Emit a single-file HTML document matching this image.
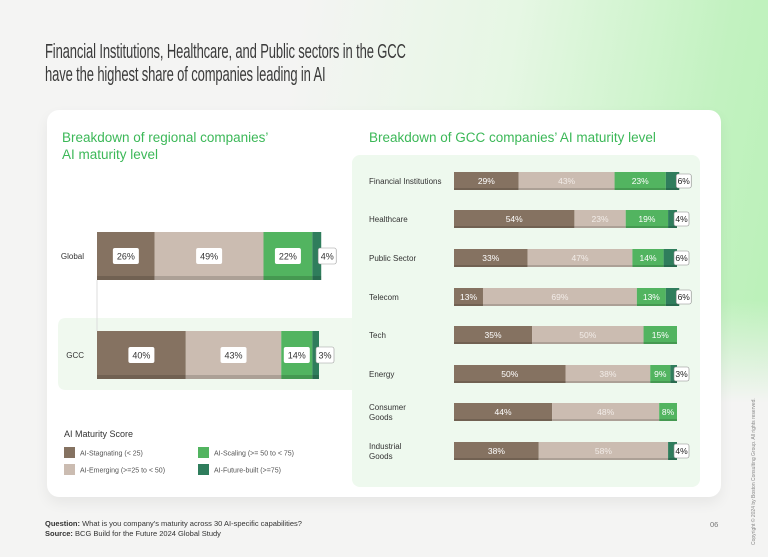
<!DOCTYPE html>
<html><head><meta charset="utf-8">
<style>
html,body{margin:0;padding:0}
body{width:768px;height:557px;overflow:hidden;position:relative;font-family:"Liberation Sans",sans-serif;
background:linear-gradient(100deg,#f4f4f3 0%,#f4f4f3 35%,#e6f7e4 60%,#c2f2c0 85%,#b8f0b6 100%);}
.bot{position:absolute;left:0;top:300px;width:768px;height:257px;background:linear-gradient(180deg,rgba(244,244,243,0),#f4f4f3 40%)}
h1{position:absolute;left:45px;top:41px;margin:0;font-weight:normal;font-size:20px;line-height:23px;color:#3a3a3a;letter-spacing:-0.2px;transform:scaleX(0.65);transform-origin:0 0;white-space:nowrap}
.card{position:absolute;left:47px;top:110px;width:674px;height:387px;background:#fff;border-radius:12px;box-shadow:0 6px 14px rgba(0,0,0,0.06)}
svg{position:absolute;left:0;top:0}
.foot{position:absolute;left:45px;top:519px;font-size:7.5px;line-height:10px;color:#333}
.pg{position:absolute;left:710px;top:520px;font-size:7.5px;color:#777}
.copy{position:absolute;left:751px;top:545px;transform:rotate(-90deg);transform-origin:0 0;font-size:5px;color:#888;white-space:nowrap}
</style></head><body>
<div class="bot"></div>
<h1>Financial Institutions, Healthcare, and Public sectors in the GCC<br>have the highest share of companies leading in AI</h1>
<div class="card"></div>
<svg id="chart" width="768" height="557" font-family="Liberation Sans, sans-serif"></svg>
<div class="foot"><b>Question:</b> What is you company's maturity across 30 AI-specific capabilities?<br><b>Source:</b> BCG Build for the Future 2024 Global Study</div>
<div class="pg">06</div>
<div class="copy">Copyright © 2024 by Boston Consulting Group. All rights reserved.</div>
<script>
const regions = ['Global','GCC'];
const regStagnating = [26,40];
const regEmerging = [49,43];
const regScaling = [22,14];
const regFuture = [4,3];
const sectors = ['Financial Institutions','Healthcare','Public Sector','Telecom','Tech','Energy','Consumer|Goods','Industrial|Goods'];
const secStagnating = [29,54,33,13,35,50,44,38];
const secEmerging = [43,23,47,69,50,38,48,58];
const secScaling = [23,19,14,13,15,9,8,0];
const secFuture = [6,4,6,6,0,3,0,4];
const colors = ['#857261','#cbbcb1','#52b460','#2f7d5c'];
const legendLabels = ['AI-Stagnating (< 25)','AI-Emerging (>=25 to < 50)','AI-Scaling (>= 50 to < 75)','AI-Future-built (>=75)'];

const NS='http://www.w3.org/2000/svg';
const svg=document.getElementById('chart');
function mk(tag,attrs,parent){const e=document.createElementNS(NS,tag);for(const k in attrs)e.setAttribute(k,attrs[k]);(parent||svg).appendChild(e);return e;}
function txt(x,y,s,attrs){const t=mk('text',Object.assign({x:x,y:y},attrs));t.textContent=s;return t;}

// background panels
const band=mk('path',{d:'M66 318 H360 V390 H66 Q58 390 58 382 V326 Q58 318 66 318 Z',fill:'#f0f9ef'});


const panel=mk('rect',{x:352,y:155,width:348,height:332,rx:8,fill:'#eef9ee'});


const conn=mk('line',{x1:97,y1:280,x2:97,y2:331,stroke:'#ddd','stroke-width':1});



// subtitles
let st=txt(62,142,'Breakdown of regional companies’',{'font-size':13.5,fill:'#3cb858'});

st=txt(62,159,'AI maturity level',{'font-size':13.5,fill:'#3cb858'});

st=txt(369,142,'Breakdown of GCC companies’ AI maturity level',{'font-size':13.5,fill:'#3cb858'});


// left chart
const lx0=97,lw=222;
const lTops=[232,331], lh=48;
function lxs(v){return v/100*lw;}
regions.forEach((r,i)=>{
  const vals=[regStagnating[i],regEmerging[i],regScaling[i],regFuture[i]];
  const y=lTops[i];
  const lab=txt(84,y+lh/2+3,r,{'font-size':8,fill:'#333','text-anchor':'end'});
  
  let x=lx0;
  vals.forEach((v,j)=>{
    const w=lxs(v);
    const s=mk('rect',{x:x,y:y,width:w,height:lh,fill:colors[j]});
    
    
    mk('rect',{x:x,y:y+lh-4,width:w,height:4,fill:'rgba(0,0,0,0.15)'});
    const cx=j===3?x+w+6:x+w/2;
    const bw=v>=10?26:18;
    const b=mk('rect',{x:cx-bw/2,y:y+lh/2-8,width:bw,height:16,rx:2,fill:'#fff',stroke:j===3?'#999':'none','stroke-width':0.6});
    
    const t=txt(cx,y+lh/2+3.5,v+'%',{'font-size':9,fill:'#333','text-anchor':'middle'});
    
    x+=w;
  });
});

// right chart
const rx0=454,rw=223,rh=18;
const rCenters=[181,219,258,297,335,374,412,451];
function rxs(v){return v/100*rw;}
sectors.forEach((s,i)=>{
  const cy=rCenters[i];
  const parts=s.split('|');
  parts.forEach((p,k)=>{
    const l=txt(369,cy+3+(parts.length>1?(k-0.5)*10:0),p,{'font-size':8,fill:'#333'});
    
  });
  const vals=[secStagnating[i],secEmerging[i],secScaling[i],secFuture[i]];
  let x=rx0;
  vals.forEach((v,j)=>{
    if(v<=0)return;
    const w=rxs(v);
    const seg=mk('rect',{x:x,y:cy-rh/2,width:w,height:rh,fill:colors[j]});
    
    
    mk('rect',{x:x,y:cy+rh/2-2,width:w,height:2,fill:'rgba(0,0,0,0.15)'});
    if(j===3){
      const b=mk('rect',{x:x+w-3,y:cy-7,width:15,height:14,rx:2,fill:'#fff',stroke:'#888','stroke-width':0.6});
      
      const t=txt(x+w+4.5,cy+3,v+'%',{'font-size':8.5,fill:'#222','text-anchor':'middle'});
      
    } else {
      const t=txt(x+w/2,cy+3,v+'%',{'font-size':8.5,fill:j===1?'#f2ece8':'#fff','text-anchor':'middle'});
      
    }
    x+=w;
  });
});

// legend
const lt=txt(64,437,'AI Maturity Score',{'font-size':9,fill:'#333'});

legendLabels.forEach((l,i)=>{
  const lx=i<2?64:198, ly=i%2===0?447:464;
  const sw=mk('rect',{x:lx,y:ly,width:11,height:11,fill:colors[i]});
  
  const t=txt(lx+16,ly+8.5,l,{'font-size':7,fill:'#555'});
  
});
</script>
</body></html>
